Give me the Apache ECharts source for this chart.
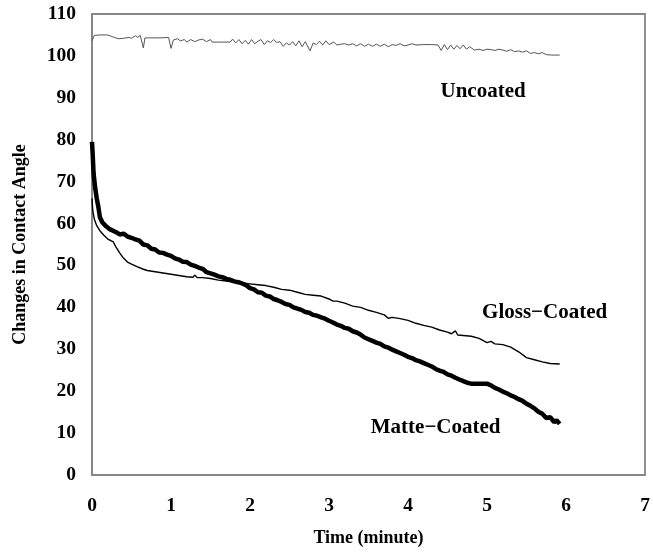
<!DOCTYPE html>
<html>
<head>
<meta charset="utf-8">
<script src="https://cdn.jsdelivr.net/npm/echarts@6/dist/echarts.min.js"></script>
<style>
  html, body { margin: 0; padding: 0; background: #fff; }
  #chart { width: 653px; height: 552px; }
</style>
</head>
<body>
<div id="chart"></div>
<script>
// time (minute), contact angle
const uncoated = [
  [0,103.6],[0.03,104.9],[0.1,105.0],[0.2,105.0],[0.27,104.5],[0.33,104.1],[0.4,104.2],[0.47,104.4],
  [0.5,104.2],[0.55,104.8],[0.58,104.4],[0.61,104.9],[0.63,104.5],[0.65,101.9],[0.67,104.3],[0.75,104.3],
  [0.85,104.3],[0.97,104.4],[1.0,101.8],[1.03,103.8],[1.08,104.1],[1.12,103.6],[1.17,103.9],[1.2,103.3],
  [1.25,103.9],[1.3,103.4],[1.35,103.8],[1.4,104.0],[1.45,103.4],[1.5,103.9],[1.52,103.3],[1.6,103.3],
  [1.75,103.3],[1.78,104.0],[1.82,103.1],[1.86,103.9],[1.9,102.9],[1.94,103.7],[1.98,102.8],[2.02,103.9],
  [2.06,102.9],[2.1,103.5],[2.14,103.9],[2.18,102.7],[2.22,103.6],[2.26,103.2],[2.3,103.9],[2.34,103.2],
  [2.38,103.4],[2.42,102.3],[2.46,103.1],[2.5,102.6],[2.54,103.4],[2.58,102.4],[2.62,103.6],[2.66,102.2],
  [2.7,103.4],[2.76,101.2],[2.8,103.1],[2.84,102.7],[2.88,103.5],[2.92,102.6],[2.96,103.6],[3.0,102.7],
  [3.06,103.3],[3.1,102.6],[3.15,102.8],[3.2,102.9],[3.25,102.6],[3.3,102.9],[3.35,102.4],[3.4,102.9],
  [3.45,102.3],[3.5,102.8],[3.55,102.3],[3.6,102.8],[3.65,102.3],[3.7,102.8],[3.75,102.2],[3.8,102.7],
  [3.85,102.5],[3.9,102.9],[3.95,102.4],[4.0,102.6],[4.05,102.9],[4.1,102.6],[4.2,102.7],[4.3,102.7],
  [4.38,102.6],[4.42,101.3],[4.46,102.7],[4.5,101.5],[4.54,102.6],[4.58,101.6],[4.62,102.5],[4.66,101.7],
  [4.7,102.6],[4.74,101.6],[4.78,102.2],[4.84,101.4],[4.9,101.6],[4.95,101.3],[5.0,101.6],[5.05,101.5],
  [5.1,101.3],[5.15,101.6],[5.2,101.4],[5.25,101.1],[5.3,101.5],[5.35,101.0],[5.4,101.2],[5.45,100.9],
  [5.5,101.2],[5.55,100.6],[5.6,100.8],[5.65,100.5],[5.7,100.8],[5.75,100.3],[5.82,100.2],[5.92,100.2]
];

const glossCoated = [
  [0,66],[0.01,63],[0.03,61],[0.06,59.5],[0.1,58.3],[0.15,57.2],[0.2,56.3],[0.27,55.6],[0.3,54.5],
  [0.35,53.0],[0.4,51.7],[0.45,50.8],[0.5,50.3],[0.57,49.7],[0.65,49.1],[0.7,48.8],[0.8,48.5],[0.9,48.2],
  [1.0,47.9],[1.1,47.6],[1.2,47.3],[1.28,47.2],[1.3,47.7],[1.33,47.1],[1.4,47.1],[1.5,46.9],[1.6,46.5],
  [1.7,46.3],[1.8,46.0],[1.9,45.8],[2.0,45.6],[2.1,45.4],[2.2,45.2],[2.3,44.8],[2.4,44.3],[2.5,44.1],
  [2.6,43.6],[2.7,43.1],[2.8,42.9],[2.9,42.7],[3.0,42.0],[3.05,41.5],[3.1,41.5],[3.2,41.0],[3.3,40.3],
  [3.4,40.0],[3.5,39.3],[3.6,38.8],[3.7,38.2],[3.75,37.4],[3.8,37.6],[3.9,37.3],[4.0,36.9],[4.1,36.2],
  [4.2,35.7],[4.3,35.3],[4.4,34.6],[4.5,34.1],[4.55,33.7],[4.6,34.4],[4.63,33.4],[4.7,33.3],[4.8,33.1],
  [4.9,32.6],[5.0,31.6],[5.05,31.9],[5.1,31.3],[5.2,31.1],[5.3,30.5],[5.4,29.4],[5.5,28.0],[5.6,27.5],
  [5.7,27.0],[5.8,26.6],[5.92,26.5]
];

const matteCoated = [
  [0,79.5],[0.01,76],[0.02,72],[0.04,68.5],[0.06,66],[0.08,64],[0.1,61.5],[0.13,60.3],[0.17,59.5],
  [0.23,58.6],[0.3,58.0],[0.35,57.4],[0.4,57.6],[0.45,56.9],[0.5,56.6],[0.55,56.2],[0.6,55.9],[0.65,55.0],
  [0.7,54.8],[0.75,54.0],[0.8,53.8],[0.85,53.1],[0.9,53.0],[0.95,52.6],[1.0,52.3],[1.05,51.7],[1.1,51.4],
  [1.15,50.9],[1.2,50.8],[1.25,50.2],[1.3,49.9],[1.35,49.5],[1.4,49.2],[1.45,48.4],[1.5,48.1],[1.55,47.8],
  [1.6,47.4],[1.65,47.2],[1.7,46.8],[1.75,46.6],[1.8,46.2],[1.85,46.0],[1.9,45.7],[1.95,45.3],[2.0,44.6],
  [2.05,44.3],[2.1,43.6],[2.15,43.5],[2.2,42.8],[2.25,42.6],[2.3,42.0],[2.35,41.7],[2.4,41.3],[2.45,40.8],
  [2.5,40.6],[2.55,40.0],[2.6,39.7],[2.65,39.4],[2.7,38.9],[2.75,38.7],[2.8,38.2],[2.85,38.0],[2.9,37.6],
  [2.95,37.3],[3.0,36.8],[3.05,36.4],[3.1,35.9],[3.15,35.6],[3.2,35.1],[3.25,34.9],[3.3,34.3],[3.35,34.0],
  [3.4,33.5],[3.45,32.8],[3.5,32.4],[3.55,32.0],[3.6,31.6],[3.65,31.3],[3.7,30.7],[3.75,30.4],[3.8,29.9],
  [3.85,29.5],[3.9,29.1],[3.95,28.7],[4.0,28.2],[4.05,27.9],[4.1,27.4],[4.15,27.1],[4.2,26.7],[4.25,26.3],
  [4.3,25.9],[4.35,25.3],[4.4,24.9],[4.45,24.6],[4.5,24.0],[4.55,23.7],[4.6,23.2],[4.65,22.8],[4.7,22.4],
  [4.75,22.0],[4.8,21.8],[4.9,21.8],[5.0,21.8],[5.05,21.4],[5.1,20.8],[5.15,20.4],[5.2,19.9],[5.25,19.5],
  [5.3,19.0],[5.35,18.6],[5.4,18.1],[5.45,17.7],[5.5,17.0],[5.55,16.5],[5.6,15.9],[5.65,15.1],[5.7,14.6],
  [5.75,13.6],[5.8,13.8],[5.85,12.6],[5.88,13.1],[5.92,12.2]
];

const seriesNames = ["Uncoated", "Gloss\u2212Coated", "Matte\u2212Coated"];

const font = "'Liberation Serif', 'Times New Roman', serif";
const axisGray = "#868686";

const chart = echarts.init(document.getElementById("chart"), null, { renderer: "canvas" });

const noteLabel = {
  show: true,
  position: "inside",
  fontFamily: font,
  fontWeight: "bold",
  fontSize: 21,
  color: "#000"
};

function note(text, coord) {
  return {
    data: [{ coord, value: text }],
    symbol: "circle",
    symbolSize: 1,
    itemStyle: { color: "rgba(0,0,0,0)" },
    label: { ...noteLabel, formatter: () => text },
    silent: true,
    animation: false
  };
}

const option = {
  animation: false,
  backgroundColor: "#fff",
  grid: {
    left: 92,
    right: 8,
    top: 14,
    bottom: 77,
    show: true,
    borderColor: axisGray,
    borderWidth: 1.8
  },
  xAxis: {
    type: "value",
    min: 0,
    max: 7,
    interval: 1,
    name: "Time (minute)",
    nameLocation: "middle",
    nameGap: 54,
    nameTextStyle: { fontFamily: font, fontWeight: "bold", fontSize: 18, color: "#000" },
    axisLine: { show: true, lineStyle: { color: axisGray, width: 1.8 } },
    axisTick: { show: false },
    splitLine: { show: false },
    axisLabel: { fontFamily: font, fontWeight: "bold", fontSize: 19.5, color: "#000", margin: 21 }
  },
  yAxis: {
    type: "value",
    min: 0,
    max: 110,
    interval: 10,
    name: "Changes in Contact Angle",
    nameLocation: "middle",
    nameGap: 63,
    nameTextStyle: { fontFamily: font, fontWeight: "bold", fontSize: 18, color: "#000" },
    axisLine: { show: true, lineStyle: { color: axisGray, width: 1.8 } },
    axisTick: { show: false },
    splitLine: { show: false },
    axisLabel: { fontFamily: font, fontWeight: "bold", fontSize: 19.5, color: "#000", margin: 16 }
  },
  series: [
    {
      name: seriesNames[0],
      type: "line",
      data: uncoated,
      showSymbol: false,
      lineStyle: { color: "#555", width: 1 },
      markPoint: note(seriesNames[0], [4.95, 91.5])
    },
    {
      name: seriesNames[1],
      type: "line",
      data: glossCoated,
      showSymbol: false,
      lineStyle: { color: "#000", width: 1.4 },
      markPoint: note(seriesNames[1], [5.73, 38.7])
    },
    {
      name: seriesNames[2],
      type: "line",
      data: matteCoated,
      showSymbol: false,
      lineStyle: { color: "#000", width: 4.5 },
      markPoint: note(seriesNames[2], [4.35, 11.2])
    }
  ]
};

chart.setOption(option);
</script>
</body>
</html>
